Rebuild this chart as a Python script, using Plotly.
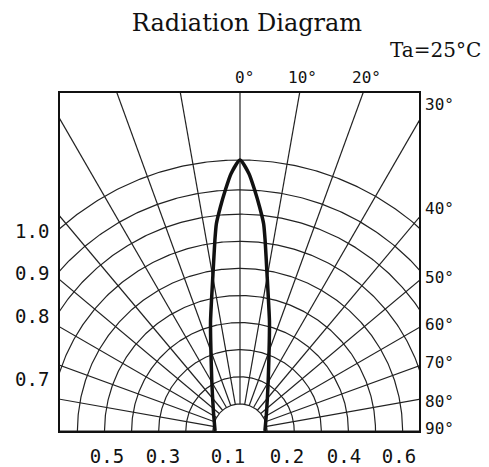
import numpy as np
import plotly.graph_objects as go

# relative intensity vs. angle, mirrored for negative angles
angles_deg = [0, 2, 3.5, 5, 6.5, 7.5, 9.5, 15, 18, 29, 52, 90]
intensity = [1.0, 0.95, 0.89, 0.83, 0.77, 0.71, 0.60, 0.42, 0.35, 0.215, 0.125, 0.092]

# polar grid
arc_radii = [0.1, 0.2, 0.3, 0.4, 0.5, 0.6, 0.7, 0.8, 0.89, 1.0]
ray_angles = list(range(-90, 91, 10))

# labels
top_labels = ["0°", "10°", "20°"]
right_labels = ["30°", "40°", "50°", "60°", "70°", "80°", "90°"]
left_labels = ["1.0", "0.9", "0.8", "0.7"]
bottom_labels = ["0.5", "0.3", "0.1", "0.2", "0.4", "0.6"]

# page body has an 8px margin, so the figure is shifted by that much
OFF = 8
W, H = 489 - OFF, 467 - OFF
L, R, T, B = 60 - OFF, 70, 93 - OFF, 36
S = 271.0  # px per unit radius
cx, cy = 240, 431  # centre of the diagram in window pixels


def dx(px):
    return (px - cx) / S


def dy(py):
    return (cy - py) / S


def paper_x(px):
    return (px - OFF - L) / (W - L - R)


def paper_y(py):
    return (H - B - (py - OFF)) / (H - T - B)


fig = go.Figure()
grid = dict(color="#222222", width=1.2)

t = np.radians(np.linspace(-90, 90, 361))
for r in arc_radii:
    fig.add_trace(go.Scatter(x=r * np.sin(t), y=r * np.cos(t), mode="lines",
                             line=grid, hoverinfo="skip", showlegend=False))

for a in ray_angles:
    th = np.radians(a)
    rr = np.array([arc_radii[0], 3.0])
    fig.add_trace(go.Scatter(x=rr * np.sin(th), y=rr * np.cos(th), mode="lines",
                             line=grid, hoverinfo="skip", showlegend=False))

# main curve, both sides
th_all = np.radians(np.array([-a for a in angles_deg[::-1]] + angles_deg[1:]))
r_all = np.array(intensity[::-1] + intensity[1:])
fig.add_trace(go.Scatter(x=r_all * np.sin(th_all), y=r_all * np.cos(th_all), mode="lines",
                         line=dict(color="#111111", width=3.5, shape="spline", smoothing=0.6),
                         hoverinfo="skip", showlegend=False))

deg_font = dict(family="DejaVu Sans Mono", size=16, color="#111111")
num_font = dict(family="DejaVu Sans Mono", size=19, color="#111111")

top_px = [244, 302, 366]
for lab, x in zip(top_labels, top_px):
    fig.add_annotation(x=paper_x(x), y=paper_y(77), xref="paper", yref="paper", text=lab,
                       showarrow=False, font=deg_font, xanchor="center", yanchor="middle")

right_py = [104, 208, 277, 324, 362, 401, 428]
for lab, y in zip(right_labels, right_py):
    fig.add_annotation(x=paper_x(423), y=paper_y(y), xref="paper", yref="paper", text=lab,
                       showarrow=False, font=deg_font, xanchor="left", yanchor="middle")

left_py = [231, 273, 316, 379]
bottom_px = [107, 163, 228, 287, 344, 399]

fig.add_annotation(x=paper_x(483), y=paper_y(50), xref="paper", yref="paper", text="Ta=25°C",
                   showarrow=False, xanchor="right", yanchor="middle",
                   font=dict(family="DejaVu Serif", size=20, color="#111111"))

fig.update_layout(
    width=W, height=H, autosize=False,
    margin=dict(l=L, r=R, t=T, b=B, autoexpand=False),
    paper_bgcolor="white", plot_bgcolor="white",
    title=dict(text="Radiation Diagram", x=(247 - OFF) / W, xref="container", xanchor="center",
               y=1 - (23 - OFF) / H, yref="container", yanchor="middle",
               font=dict(family="DejaVu Serif", size=24, color="#111111")),
)
fig.update_xaxes(range=[dx(60), dx(419)], showgrid=False, zeroline=False, automargin=False,
                 showline=True, mirror=True, linecolor="#111111", linewidth=1.5,
                 tickmode="array", tickvals=[dx(p) for p in bottom_px], ticktext=bottom_labels,
                 ticks="", ticklabelstandoff=7, tickfont=num_font, fixedrange=True)
fig.update_yaxes(range=[dy(431), dy(93)], showgrid=False, zeroline=False, automargin=False,
                 showline=True, mirror=True, linecolor="#111111", linewidth=1.5,
                 tickmode="array", tickvals=[dy(p) for p in left_py], ticktext=left_labels,
                 ticks="", ticklabelstandoff=5, tickfont=num_font, fixedrange=True)

fig.write_html("out.html")
